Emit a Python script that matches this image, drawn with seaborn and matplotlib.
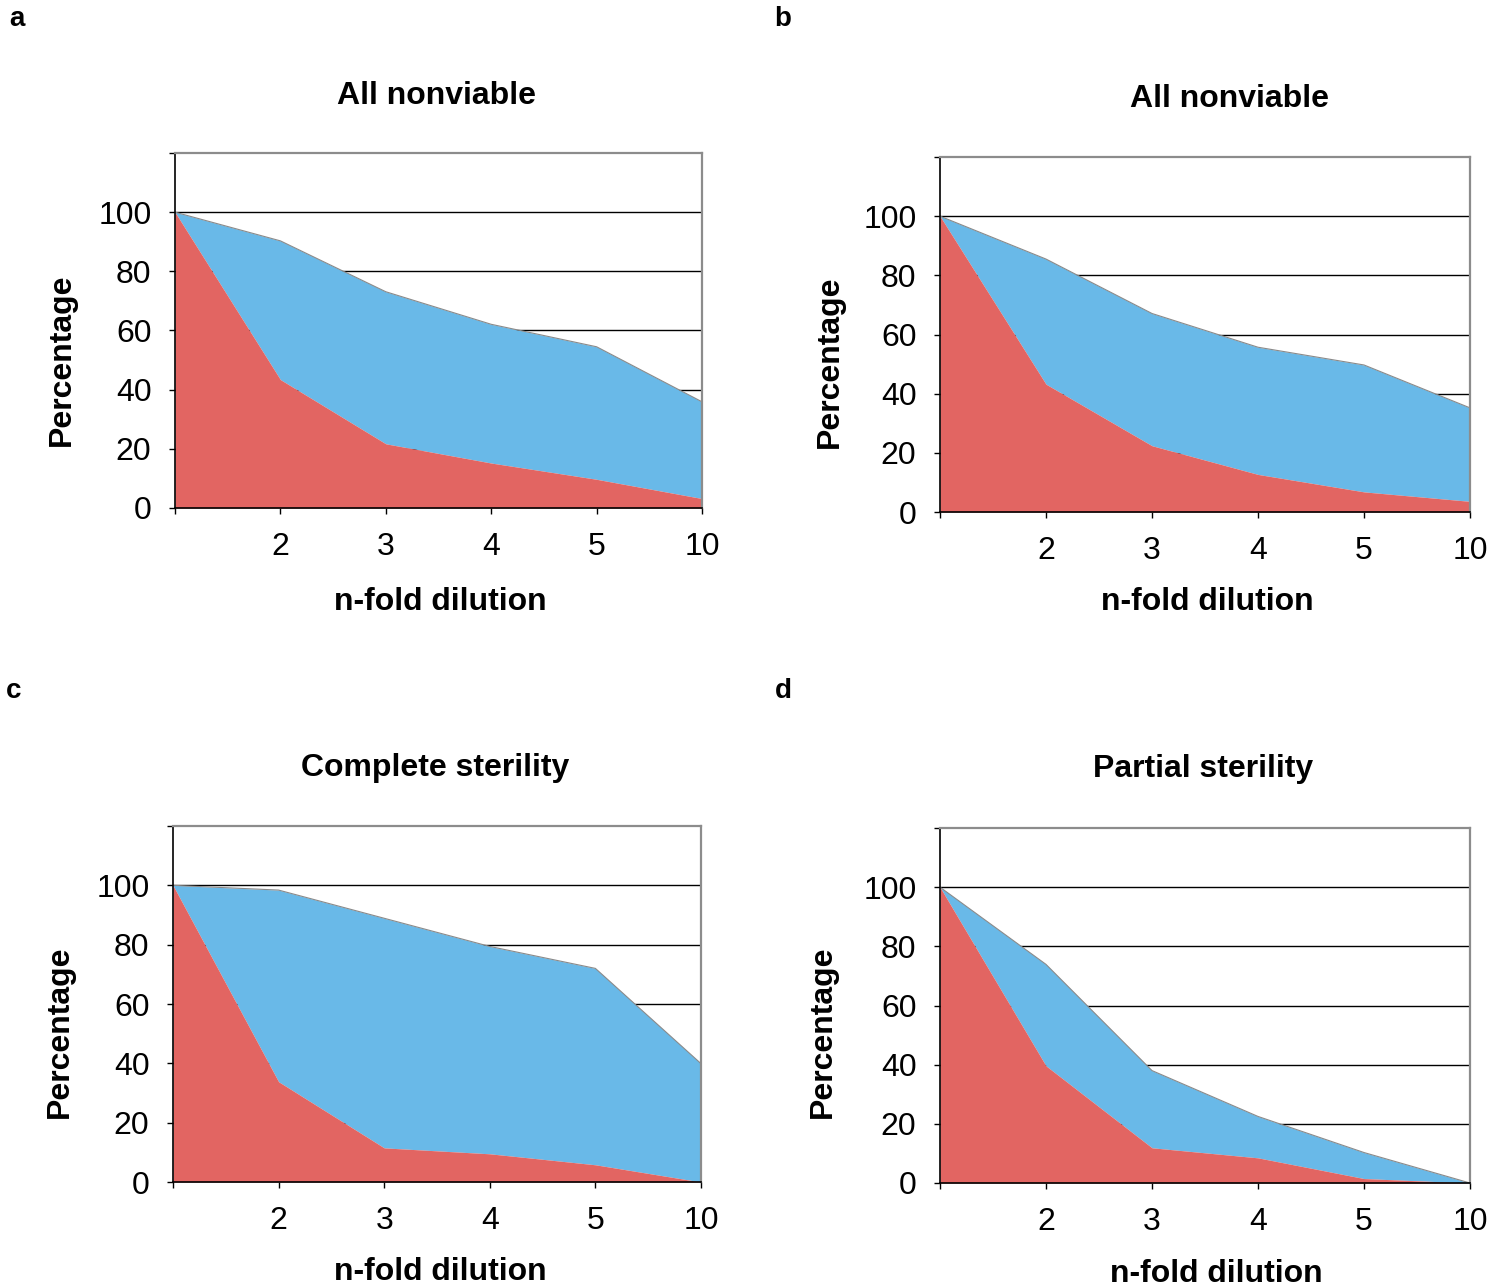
import numpy as np
import pandas as pd
import matplotlib
matplotlib.use("Agg")
import matplotlib.pyplot as plt
import seaborn as sns

# ── Data ─────────────────────────────────────────────────────
dilution_labels = ["", "2", "3", "4", "5", "10"]

a_total = [100, 90.3, 73.1, 62.1, 54.5, 35.9]
a_red = [100, 43.4, 21.7, 15.2, 9.7, 3.2]

b_total = [100, 85.5, 67.1, 55.7, 49.7, 35.2]
b_red = [100, 43.2, 22.4, 12.7, 6.8, 3.6]

c_total = [100, 98.4, 88.9, 79.4, 72.0, 39.9]
c_red = [100, 33.8, 11.5, 9.5, 5.8, 0.0]

d_total = [100, 73.9, 38.0, 22.5, 10.3, 0.0]
d_red = [100, 39.6, 11.9, 8.5, 1.5, 0.0]

titles = ["All nonviable", "All nonviable", "Complete sterility", "Partial sterility"]
letters = ["a", "b", "c", "d"]

RED = "#E26562"
BLUE = "#69B9E8"

sns.set_theme(style="white")
plt.rcParams["font.family"] = ["Liberation Sans", "DejaVu Sans"]
plt.rcParams["text.color"] = "black"
plt.rcParams["xtick.color"] = "black"
plt.rcParams["ytick.color"] = "black"

W, H = 1497, 1286
fig = plt.figure(figsize=(W / 100, H / 100), dpi=100)

# axes boxes in pixels: left, right, top, bottom
boxes = [(175, 702, 153, 508), (940, 1470, 157, 512),
         (173, 701, 826, 1182), (940, 1470, 828, 1183)]
title_pos = [(437, 96), (1229, 99), (435, 768), (1203, 769)]
xlabel_pos = [(440, 602), (1207, 602), (440, 1272), (1216, 1274)]
ylabel_pos = [(62, 360), (830, 362), (60, 1032), (823, 1032)]
letter_pos = [(17, 19), (783, 19), (14, 691), (783, 691)]

panels = [(a_total, a_red), (b_total, b_red), (c_total, c_red), (d_total, d_red)]

for i, (total, red) in enumerate(panels):
    l, r, t, b = boxes[i]
    ax = fig.add_axes([l / W, 1 - b / H, (r - l) / W, (b - t) / H])
    df = pd.DataFrame({"pos": np.arange(len(dilution_labels)),
                       "total": total, "red": red})

    for g in [20, 40, 60, 80, 100]:
        ax.axhline(g, color="black", lw=1.0, zorder=0)

    ax.fill_between(df["pos"], df["red"], df["total"], color=BLUE,
                    lw=0, zorder=2)
    ax.fill_between(df["pos"], 0, df["red"], color=RED, lw=0, zorder=3)
    sns.lineplot(data=df, x="pos", y="total", ax=ax, color="#8a8a8a",
                 lw=0.8, zorder=4)

    ax.set_xlim(0, len(dilution_labels) - 1)
    ax.set_ylim(0, 120)
    ax.set_xticks(df["pos"])
    ax.set_xticklabels(dilution_labels)
    ax.set_yticks([0, 20, 40, 60, 80, 100, 120])
    ax.set_yticklabels(["0", "20", "40", "60", "80", "100", ""])
    ax.tick_params(axis="both", direction="out", length=4, width=1,
                   color="black", labelcolor="black", labelsize=23, pad=13,
                   left=True, bottom=True)
    ax.set_xlabel("")
    ax.set_ylabel("")

    for s in ["left", "bottom"]:
        ax.spines[s].set_color("black")
        ax.spines[s].set_linewidth(1.2)
    for s in ["top", "right"]:
        ax.spines[s].set_color("#8c8c8c")
        ax.spines[s].set_linewidth(1.6)
    for s in ax.spines.values():
        s.set_zorder(5)

    fig.text(title_pos[i][0] / W, 1 - title_pos[i][1] / H, titles[i],
             ha="center", va="center", fontsize=23, fontweight="bold")
    fig.text(xlabel_pos[i][0] / W, 1 - xlabel_pos[i][1] / H, "n-fold dilution",
             ha="center", va="center", fontsize=23, fontweight="bold")
    fig.text(ylabel_pos[i][0] / W, 1 - ylabel_pos[i][1] / H, "Percentage",
             ha="center", va="center", fontsize=23, fontweight="bold",
             rotation=90)
    fig.text(letter_pos[i][0] / W, 1 - letter_pos[i][1] / H, letters[i],
             ha="center", va="center", fontsize=20, fontweight="bold")

fig.savefig("out.png", dpi=100)
